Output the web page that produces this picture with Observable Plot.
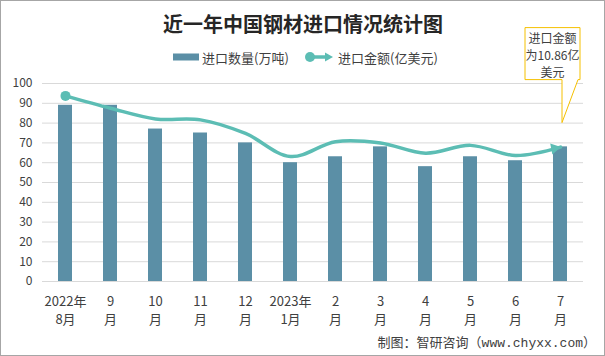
<!DOCTYPE html>
<html>
<head>
<meta charset="utf-8">
<script src="https://cdn.jsdelivr.net/npm/d3@7"></script>
<script src="https://cdn.jsdelivr.net/npm/@observablehq/plot@0.6"></script>
<style>
  body { margin: 0; background: #fff; }
  #wrap { position: relative; width: 605px; height: 356px; overflow: hidden; background: #fff;
          font-family: "Noto Sans CJK SC", "Noto Sans", sans-serif; }
  #chart { position: absolute; left: 0; top: 0; }
  #overlay { position: absolute; left: 0; top: 0; pointer-events: none; }
  #frame { position: absolute; left: 0; top: 0; width: 605px; height: 356px; box-sizing: border-box;
           border: 1px solid #a6a6a6; pointer-events: none; }
</style>
</head>
<body>
<div id="wrap">
  <div id="chart"></div>
  <svg id="overlay" width="605" height="356"></svg>
  <div id="frame"></div>
</div>
<script>
// ---- data ----
const categories = ["2022年8月","2022年9月","2022年10月","2022年11月","2022年12月","2023年1月",
                    "2023年2月","2023年3月","2023年4月","2023年5月","2023年6月","2023年7月"];
const tickLabels = ["2022年\n8月","9\n月","10\n月","11\n月","12\n月","2023年\n1月",
                    "2\n月","3\n月","4\n月","5\n月","6\n月","7\n月"];
const importVolume = [89, 89, 77, 75, 70, 60, 63, 68, 58, 63, 61, 68];           // 万吨
const importAmount = [15.0, 14.0, 13.14, 13.06, 11.96, 10.1, 11.3, 11.2, 10.37, 11.0, 10.18, 10.86]; // 亿美元
const amountAxisMax = 16;      // hidden secondary axis (0–16 亿美元)
const yTicks = [0,10,20,30,40,50,60,70,80,90,100];
const calloutText = ["进口金额", "为10.86亿", "美元"];
const calloutAnchorValue = 80;

const seriesNames = ["进口数量(万吨)", "进口金额(亿美元)"];
const barColor = "#5b8fa6";
const lineColor = "#5cbdb4";

const data = categories.map((c, i) => ({cat: c, vol: importVolume[i], amt: importAmount[i]}));
const labelMap = new Map(categories.map((c, i) => [c, tickLabels[i]]));
const amtY = d => d.amt / amountAxisMax * 100;

const plot = Plot.plot({
  width: 605,
  height: 356,
  marginTop: 83,
  marginBottom: 75,
  marginLeft: 42,
  marginRight: 22,
  style: {fontFamily: '"Noto Sans CJK SC", "Noto Sans", sans-serif', fontSize: "12px", background: "transparent"},
  x: {type: "band", domain: categories, paddingInner: 0.69, paddingOuter: 0.35, axis: null, label: null},
  y: {domain: [0, 100], axis: null, label: null},
  marks: [
    Plot.gridY(yTicks, {stroke: "#d9d9d9", strokeOpacity: 1, strokeWidth: 1}),
    Plot.axisY(yTicks, {tickSize: 0, tickPadding: 10, color: "#404040", fontSize: 12, label: null}),
    Plot.axisX({tickSize: 0, tickPadding: 11, tickFormat: d => labelMap.get(d), color: "#404040",
                fontSize: 13, lineHeight: 1.42, label: null}),
    Plot.barY(data, {x: "cat", y: "vol", fill: barColor}),
    Plot.line(data, {x: "cat", y: amtY, stroke: lineColor, strokeWidth: 3.5, curve: "catmull-rom"}),
    Plot.dot(data.slice(0, 1), {x: "cat", y: amtY, r: 5, fill: lineColor}),
    Plot.dot(data.slice(-1), {x: "cat", y: amtY, r: 4.2, symbol: "triangle", fill: lineColor,
                              rotate: 79, dx: -6, dy: 1.2})
  ]
});
document.getElementById("chart").appendChild(plot);

// ---- overlay: title, legend, callout, caption ----
const svg = d3.select("#overlay");
const font = '"Noto Sans CJK SC", "Noto Sans", sans-serif';

svg.append("text")
  .attr("x", 303).attr("y", 23)
  .attr("text-anchor", "middle").attr("dominant-baseline", "central")
  .attr("font-family", font).attr("font-size", 20).attr("font-weight", 700)
  .attr("fill", "#262626")
  .text("近一年中国钢材进口情况统计图");

// legend
const lg = svg.append("g").attr("font-family", font).attr("font-size", 13).attr("fill", "#404040");
lg.append("rect").attr("x", 173).attr("y", 53.5).attr("width", 26).attr("height", 7).attr("fill", barColor);
lg.append("text").attr("x", 202).attr("y", 57).attr("dominant-baseline", "central").text(seriesNames[0]);
lg.append("line").attr("x1", 310).attr("x2", 327).attr("y1", 57).attr("y2", 57)
  .attr("stroke", lineColor).attr("stroke-width", 3.5);
lg.append("circle").attr("cx", 310).attr("cy", 57).attr("r", 5).attr("fill", lineColor);
lg.append("path").attr("d", "M333,57 L325,52.5 L325,61.5 Z").attr("fill", lineColor);
lg.append("text").attr("x", 338).attr("y", 57).attr("dominant-baseline", "central").text(seriesNames[1]);

// callout anchored through the plot's scales
const sx = plot.scale("x"), sy = plot.scale("y");
const tipX = sx.apply(categories[categories.length - 1]) + sx.bandwidth / 2 + 2;
const tipY = sy.apply(calloutAnchorValue);
const bx0 = tipX - 37, bx1 = tipX + 18, by0 = tipY - 95, by1 = tipY - 43;
svg.append("path")
  .attr("d", `M${bx0},${by0} H${bx1} V${by1} H${tipX + 16} L${tipX},${tipY} L${tipX},${by1} H${bx0} Z`)
  .attr("fill", "#fff").attr("stroke", "#f5c000").attr("stroke-width", 1);
const ct = svg.append("g").attr("font-family", font).attr("font-size", 12).attr("fill", "#404040")
  .attr("text-anchor", "middle");
calloutText.forEach((t, i) => {
  ct.append("text").attr("x", (bx0 + bx1) / 2).attr("y", by0 + 10 + i * 17)
    .attr("dominant-baseline", "central").text(t);
});

svg.append("text")
  .attr("x", 596).attr("y", 343)
  .attr("text-anchor", "end").attr("dominant-baseline", "central")
  .attr("font-family", '"Liberation Mono", "Noto Sans CJK SC", monospace').attr("font-size", 13)
  .attr("fill", "#404040")
  .text("制图：智研咨询（www.chyxx.com）");
</script>
</body>
</html>
